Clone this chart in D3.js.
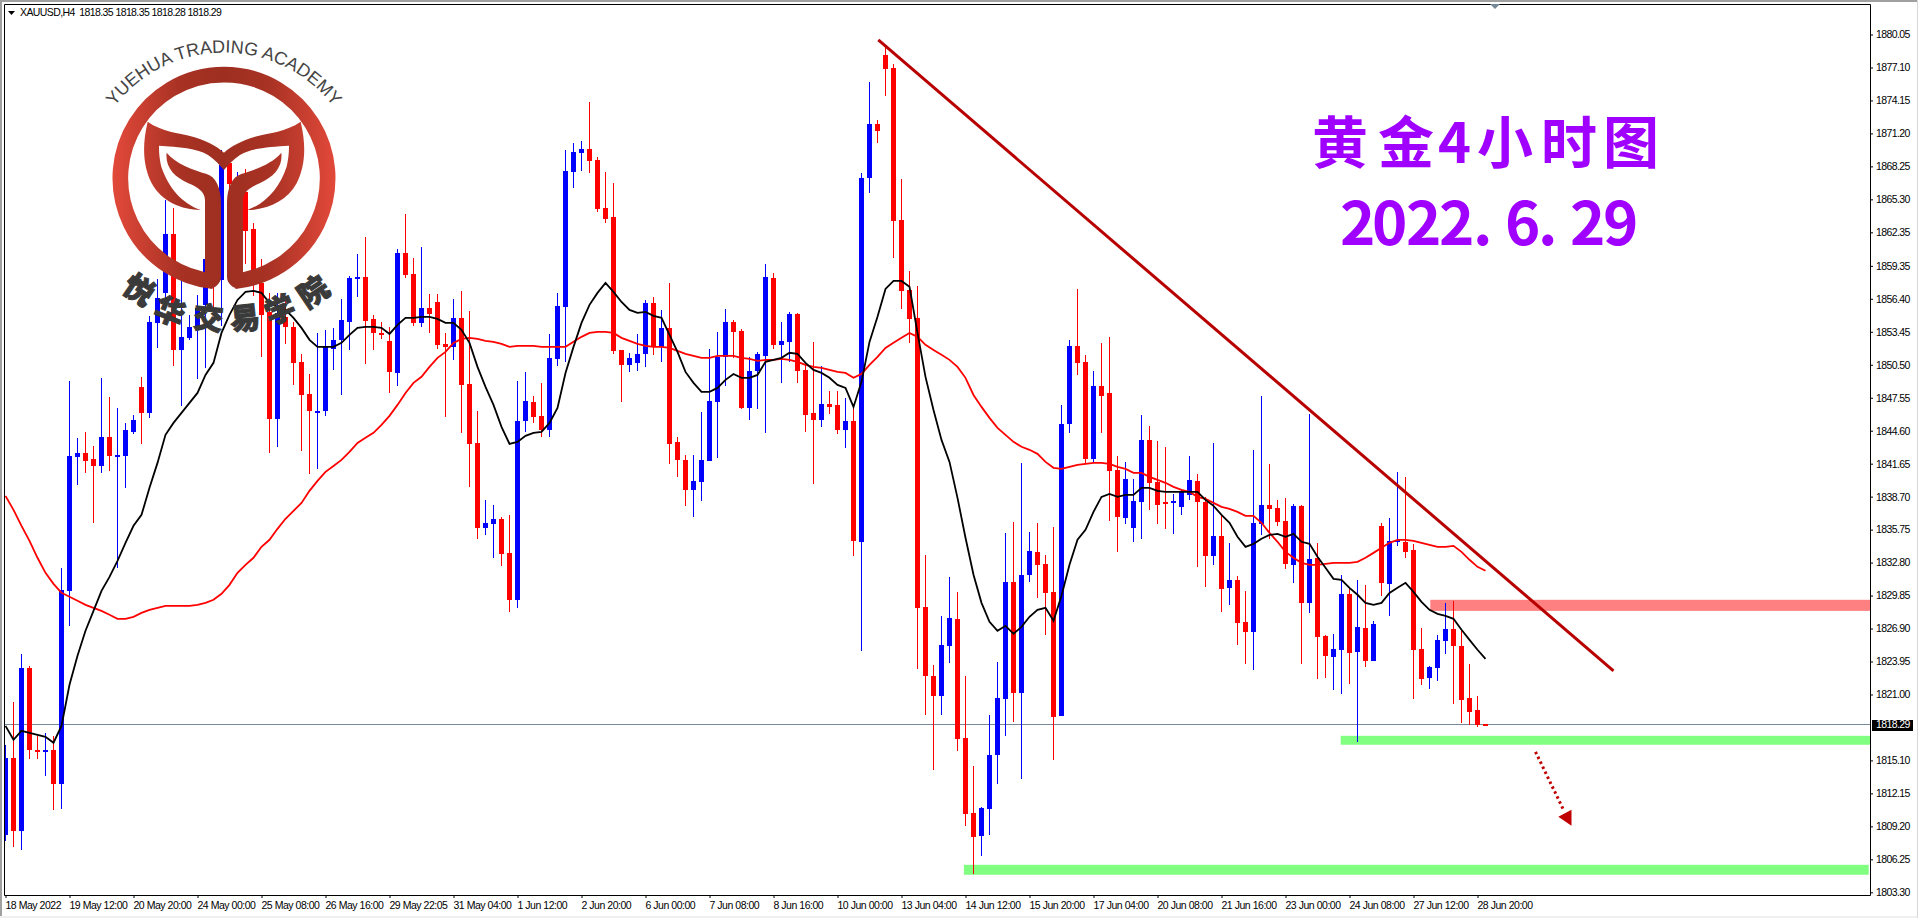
<!DOCTYPE html>
<html>
<head>
<meta charset="utf-8">
<style>
html, body { margin: 0; padding: 0; background: #fff; overflow: hidden; }
svg { display: block; }
text { font-family: "Liberation Sans", sans-serif; }
</style>
</head>
<body>
<script src="https://d3js.org/d3.v7.min.js"></script>
<script>
// XAUUSD H4 candles, one value per bar
var highs = [
1816.50,1820.34,1824.64,1823.56,1817.31,1817.57,1817.31,1832.33,1849.06,1843.96,
1844.50,1843.25,1849.33,1847.63,1846.64,1845.30,1846.02,1849.42,1854.88,1858.18,
1865.25,1864.54,1858.09,1854.96,1856.75,1861.67,1865.25,1869.72,1869.72,1867.75,
1868.02,1863.19,1859.97,1856.93,1856.93,1856.30,1854.34,1851.48,1849.68,1853.35,
1853.62,1853.80,1856.39,1858.45,1860.42,1861.94,1854.96,1854.34,1853.89,1860.87,
1864.00,1860.06,1861.05,1856.84,1856.84,1853.35,1856.39,1857.11,1855.32,1846.37,
1838.41,1837.96,1836.89,1837.07,1849.06,1849.86,1847.72,1848.88,1853.26,1856.93,
1869.72,1870.35,1870.53,1874.01,1869.09,1867.75,1866.77,1851.83,1851.57,1853.26,
1856.30,1856.57,1855.41,1857.82,1844.05,1842.44,1842.44,1846.28,1851.92,1853.44,
1855.50,1854.52,1853.71,1851.21,1851.65,1859.53,1858.72,1854.34,1855.23,1855.14,
1850.49,1852.55,1850.40,1848.16,1848.16,1847.54,1846.64,1867.66,1875.80,1872.40,
1878.94,1877.41,1867.13,1858.90,1857.56,1833.50,1823.66,1828.04,1831.53,1830.19,
1822.67,1814.62,1810.95,1819.18,1823.92,1835.46,1836.45,1841.72,1835.55,1836.36,
1833.50,1836.00,1846.91,1852.73,1857.29,1851.39,1849.95,1852.46,1853.00,1842.35,
1841.81,1840.29,1846.02,1845.03,1843.69,1843.16,1838.95,1839.40,1842.35,1840.74,
1838.68,1843.51,1837.07,1834.57,1831.62,1830.27,1842.89,1847.72,1841.63,1838.41,
1838.59,1838.05,1837.96,1846.10,1834.57,1826.34,1826.43,1831.71,1830.54,1831.26,
1830.81,1827.59,1836.36,1836.80,1840.92,1840.47,1834.48,1826.96,1823.56,1826.34,
1829.20,1829.38,1826.79,1823.74,1820.88,1818.35];

var bodyTops = [
1815.34,1815.34,1823.39,1823.39,1816.05,1816.05,1816.05,1830.36,1842.35,1842.62,
1842.62,1842.08,1844.05,1844.05,1842.44,1844.68,1845.57,1848.52,1854.34,1856.48,
1862.21,1862.21,1853.00,1853.89,1855.59,1859.97,1864.36,1868.38,1868.56,1866.15,
1865.97,1862.66,1857.82,1855.23,1855.14,1854.79,1853.89,1850.76,1847.89,1846.37,
1852.10,1852.73,1854.52,1858.27,1858.36,1858.36,1854.61,1853.35,1852.64,1860.51,
1860.51,1858.63,1855.59,1855.59,1856.12,1852.37,1854.70,1854.70,1848.79,1843.51,
1836.36,1836.72,1836.72,1833.67,1845.48,1847.27,1847.18,1845.93,1851.12,1855.77,
1867.84,1869.54,1869.81,1869.81,1868.83,1864.54,1863.73,1851.83,1851.12,1851.48,
1856.03,1856.03,1853.80,1853.80,1843.60,1841.99,1840.11,1841.99,1847.27,1851.21,
1854.34,1854.34,1853.53,1849.95,1851.48,1858.36,1858.27,1852.64,1855.05,1855.05,
1850.04,1846.19,1847.00,1847.00,1846.91,1845.48,1845.48,1867.22,1872.05,1872.05,
1878.22,1877.06,1863.46,1857.20,1854.70,1828.84,1822.67,1825.45,1827.86,1827.77,
1817.12,1810.42,1810.86,1815.61,1820.70,1831.08,1831.08,1831.71,1833.85,1833.76,
1832.69,1830.18,1845.21,1852.19,1852.19,1850.76,1848.61,1848.61,1847.98,1841.10,
1840.29,1838.32,1843.78,1843.78,1840.02,1838.23,1838.32,1839.13,1840.20,1840.11,
1838.23,1835.20,1835.20,1831.26,1831.26,1827.50,1836.36,1837.96,1837.96,1837.70,
1836.54,1837.88,1837.88,1833.14,1833.23,1826.25,1825.09,1830.01,1830.01,1827.05,
1826.96,1827.32,1836.09,1834.75,1834.84,1834.66,1833.94,1825.09,1823.48,1825.89,
1826.88,1826.88,1825.35,1820.70,1819.63,1818.35];

var bodyBottoms = [
1808.45,1808.80,1808.80,1816.05,1815.96,1815.87,1813.01,1813.01,1830.27,1842.26,
1841.90,1841.45,1841.45,1842.35,1842.35,1842.35,1844.50,1846.19,1846.19,1854.25,
1856.93,1851.83,1851.83,1852.91,1853.80,1855.86,1858.09,1858.09,1866.69,1862.57,
1862.48,1858.81,1854.96,1845.66,1845.66,1853.89,1850.67,1847.80,1846.37,1846.28,
1846.37,1851.92,1852.73,1854.34,1858.18,1854.43,1853.35,1853.26,1849.86,1849.77,
1858.54,1854.25,1854.25,1855.05,1852.28,1852.10,1852.10,1848.70,1843.42,1835.91,
1835.91,1836.27,1833.58,1829.47,1829.47,1845.48,1845.84,1844.68,1844.68,1851.03,
1855.68,1867.75,1869.45,1868.74,1864.45,1863.55,1851.74,1850.49,1850.49,1850.67,
1851.48,1852.10,1852.10,1843.42,1841.99,1839.31,1839.31,1840.02,1841.90,1847.18,
1851.21,1853.44,1846.64,1846.64,1849.95,1851.30,1852.28,1852.28,1852.55,1849.95,
1846.02,1845.57,1845.57,1846.73,1844.68,1844.68,1834.75,1834.66,1867.22,1871.42,
1876.97,1863.37,1857.11,1854.61,1828.75,1822.67,1820.88,1820.88,1825.35,1817.03,
1810.33,1808.27,1808.36,1810.77,1815.61,1820.61,1821.15,1821.15,1831.71,1832.60,
1830.09,1819.00,1819.09,1845.21,1850.67,1842.08,1842.08,1847.72,1841.01,1836.89,
1836.80,1835.91,1838.23,1839.94,1837.97,1838.14,1838.14,1837.79,1838.86,1838.23,
1833.41,1833.41,1830.45,1830.54,1827.41,1826.61,1826.61,1836.27,1837.61,1836.45,
1832.69,1832.60,1829.20,1829.20,1826.16,1824.46,1824.37,1825.00,1824.73,1824.82,
1824.01,1824.01,1830.99,1830.90,1834.66,1833.76,1825.00,1822.40,1822.49,1823.39,
1825.80,1825.35,1820.52,1819.45,1818.28,1818.29];

var lows = [
1807.91,1807.38,1807.11,1815.25,1815.25,1813.73,1810.68,1810.77,1827.14,1839.76,
1840.83,1836.36,1840.83,1841.01,1832.33,1839.49,1844.32,1843.42,1845.75,1852.01,
1856.30,1850.40,1846.82,1852.73,1849.24,1850.22,1855.23,1853.98,1866.15,1858.09,
1859.53,1856.66,1851.21,1842.62,1843.16,1852.37,1848.70,1842.80,1840.74,1841.19,
1845.93,1850.04,1847.80,1851.83,1856.57,1850.58,1851.83,1852.82,1847.98,1848.61,
1858.27,1853.98,1853.89,1853.35,1851.92,1845.84,1850.94,1844.41,1839.58,1834.93,
1835.28,1833.23,1832.51,1828.39,1828.75,1844.50,1845.30,1844.05,1844.05,1850.40,
1850.76,1866.33,1867.84,1867.66,1864.18,1863.19,1851.48,1847.18,1849.86,1849.95,
1850.31,1851.39,1850.76,1841.63,1840.47,1837.88,1836.89,1838.32,1841.90,1842.17,
1848.61,1851.12,1846.55,1845.57,1846.55,1844.41,1851.92,1848.88,1850.76,1848.88,
1844.50,1839.85,1844.94,1846.10,1844.32,1843.07,1833.41,1824.91,1865.88,1870.35,
1874.55,1860.06,1855.50,1852.46,1823.30,1819.18,1814.26,1819.18,1823.83,1815.96,
1809.25,1804.95,1806.57,1808.45,1813.01,1817.31,1818.55,1813.46,1831.08,1829.65,
1826.34,1815.16,1819.09,1844.41,1849.59,1841.63,1841.72,1844.41,1836.54,1833.76,
1836.27,1834.66,1834.93,1837.52,1836.27,1835.82,1835.37,1837.07,1838.41,1832.42,
1830.63,1832.60,1828.39,1829.02,1825.45,1823.74,1823.21,1835.28,1834.93,1836.09,
1832.24,1830.99,1823.74,1828.31,1822.40,1822.49,1821.42,1821.06,1821.96,1816.77,
1823.48,1824.01,1829.83,1828.04,1834.30,1833.23,1820.61,1821.87,1821.51,1822.22,
1824.64,1820.16,1818.46,1818.28,1818.10,1818.28];

// u = close above open (blue), d = close below open (red)
var directions = ("ududduduuu" + "dduduuuduu" + "uduuuududu" + "ddddudddd" + "u" +
    "uuuuuddddu" + "ddudddu" + "ddd" + "uuddu" + "udduu" + "uuuddddduu" +
    "ududdduuuu" + "udduuuduud" + "ddudduduud" + "ddddddduud" +
    "dduuuuduud" + "dduudduddd" + "uuudddu" + "uud" +
    "dududduudd" + "dududduudu" + "duduuddduu" + "uddddd").split("");

var blackMA = [
1818.19,1816.95,1817.75,1817.57,1817.39,1817.21,1816.68,1818.19,1821.87,1824.46,
1826.70,1828.48,1830.27,1831.52,1832.96,1834.57,1836.09,1837.07,1839.49,1841.72,
1844.23,1845.30,1846.19,1847.09,1847.98,1849.59,1850.67,1853.35,1854.96,1856.30,
1857.02,1857.11,1856.93,1856.03,1855.68,1855.41,1854.70,1853.80,1852.73,1852.10,
1852.10,1852.10,1852.46,1853.17,1853.80,1853.89,1853.89,1853.80,1853.26,1854.07,
1854.70,1854.70,1854.79,1854.79,1854.61,1854.25,1854.25,1853.62,1852.46,1850.31,
1848.52,1846.91,1844.94,1843.42,1843.60,1844.14,1844.41,1844.50,1845.30,1846.64,
1849.77,1852.10,1854.25,1855.86,1856.93,1857.82,1857.02,1856.12,1855.41,1855.14,
1855.23,1854.88,1854.70,1853.17,1851.65,1849.86,1848.88,1848.07,1848.07,1848.43,
1849.15,1849.68,1849.33,1849.33,1849.59,1850.76,1850.94,1851.12,1851.57,1851.48,
1850.67,1850.04,1849.77,1849.33,1848.70,1848.43,1846.73,1848.97,1852.55,1854.79,
1857.29,1858.00,1858.00,1857.47,1853.35,1849.42,1846.46,1843.78,1841.81,1838.59,
1835.02,1831.71,1829.20,1827.50,1826.70,1827.14,1826.43,1827.05,1827.95,1828.57,
1828.75,1827.59,1829.83,1832.60,1834.84,1835.73,1837.34,1838.68,1838.95,1838.68,
1838.86,1838.86,1839.49,1839.49,1839.22,1839.13,1839.13,1839.13,1839.13,1839.13,
1838.41,1837.88,1837.07,1836.36,1835.11,1834.21,1834.48,1834.93,1835.28,1835.37,
1835.11,1835.37,1834.66,1834.48,1833.32,1832.33,1831.35,1831.26,1830.54,1829.92,
1829.20,1829.02,1829.20,1830.09,1830.54,1830.99,1830.18,1829.29,1828.57,1828.21,
1828.04,1827.77,1826.79,1825.89,1825.00,1824.19];

var redMA = [
1838.77,1837.52,1836.09,1834.75,1833.23,1831.88,1830.90,1830.09,1829.74,1829.38,
1829.02,1828.75,1828.48,1828.13,1827.77,1827.77,1827.95,1828.30,1828.57,1828.75,
1828.93,1828.93,1828.93,1828.93,1829.02,1829.20,1829.47,1830.01,1830.81,1831.88,
1832.60,1833.23,1834.21,1834.84,1835.82,1836.72,1837.43,1838.14,1839.22,1840.11,
1840.92,1841.45,1841.99,1842.71,1843.51,1843.96,1844.41,1845.12,1845.93,1846.91,
1847.98,1848.88,1849.42,1850.31,1851.12,1851.65,1852.46,1852.82,1852.91,1852.82,
1852.64,1852.55,1852.37,1852.10,1852.19,1852.19,1852.19,1852.10,1852.10,1852.10,
1852.10,1852.55,1853.00,1853.35,1853.44,1853.44,1853.35,1852.91,1852.64,1852.37,
1852.19,1852.10,1852.10,1852.01,1851.74,1851.48,1851.30,1851.12,1851.12,1851.30,
1851.30,1851.30,1851.12,1851.03,1850.85,1850.94,1850.94,1851.03,1850.94,1850.76,
1850.49,1850.31,1850.22,1850.04,1849.86,1849.77,1849.33,1849.68,1850.49,1851.21,
1852.01,1852.46,1852.91,1853.35,1853.00,1852.28,1851.83,1851.39,1850.94,1850.31,
1849.33,1847.80,1846.73,1845.75,1844.86,1844.23,1843.60,1843.16,1842.89,1842.53,
1841.81,1841.28,1841.19,1841.37,1841.54,1841.63,1841.72,1841.72,1841.63,1841.37,
1841.19,1840.83,1840.83,1840.47,1840.20,1839.94,1839.58,1839.31,1839.13,1838.68,
1838.50,1838.14,1837.79,1837.61,1837.34,1836.98,1836.98,1836.36,1835.46,1834.66,
1833.76,1833.23,1832.78,1832.60,1832.60,1832.69,1832.78,1832.78,1832.78,1832.87,
1833.23,1833.67,1834.12,1834.57,1834.84,1834.84,1834.75,1834.57,1834.39,1834.21,
1834.21,1834.30,1833.76,1833.05,1832.42,1832.07];

var timeLabels = ["18 May 2022","19 May 12:00","20 May 20:00","24 May 00:00","25 May 08:00","26 May 16:00",
    "29 May 22:05","31 May 04:00","1 Jun 12:00","2 Jun 20:00","6 Jun 00:00","7 Jun 08:00",
    "8 Jun 16:00","10 Jun 00:00","13 Jun 04:00","14 Jun 12:00","15 Jun 20:00","17 Jun 04:00",
    "20 Jun 08:00","21 Jun 16:00","23 Jun 00:00","24 Jun 08:00","27 Jun 12:00","28 Jun 20:00"];

var priceLabels = [1880.05,1877.10,1874.15,1871.20,1868.25,1865.30,1862.35,1859.35,1856.40,1853.45,
    1850.50,1847.55,1844.60,1841.65,1838.70,1835.75,1832.80,1829.85,1826.90,1823.95,1821.00,
    1815.10,1812.15,1809.20,1806.25,1803.30];

var lastPrice = 1818.29;

// drawn annotations, in bar index and price
var resistanceZone = [178.1, 233.2, 1829.47, 1828.48];
var supportZones = [[166.9, 233.2, 1817.30, 1816.50], [119.8, 232.9, 1805.76, 1804.87]];
var trendLine = [[109.1, 1879.56], [201, 1823.12]];
var arrowLine = [[191.25, 1815.87], [194.75, 1810.68]];
var arrowHead = [[195.75, 1810.68], [194.1, 1810.06], [195.75, 1809.25]];

var width = 1918, height = 918;
var left = 5, right = 1870, top_ = 5, bottom = 895;

var x = d3.scaleLinear().domain([0, 185]).range([5.5, 1485.5]);
var y = d3.scaleLinear().domain([1803.30, 1880.05]).range([892.3, 34.5]);

var svg = d3.select("body").append("svg").attr("width", width).attr("height", height);
var defs = svg.append("defs");

defs.append("clipPath").attr("id", "plot").append("rect")
    .attr("x", left).attr("y", top_).attr("width", right - left).attr("height", bottom - top_);

// window edges of the terminal
svg.append("rect").attr("width", width).attr("height", height).attr("fill", "#fff");
svg.append("rect").attr("width", width).attr("height", 2).attr("fill", "#a0a0a0");
svg.append("rect").attr("width", 2).attr("height", height).attr("fill", "#a0a0a0");
svg.append("rect").attr("y", 916).attr("width", width).attr("height", 2).attr("fill", "#f0f0f0");
svg.append("rect").attr("x", 1917).attr("width", 1).attr("height", height).attr("fill", "#d8d8d8");

var plot = svg.append("g").attr("clip-path", "url(#plot)");

// zones go under the candles
plot.append("rect")
    .attr("x", x(resistanceZone[0])).attr("width", x(resistanceZone[1]) - x(resistanceZone[0]))
    .attr("y", y(resistanceZone[2])).attr("height", y(resistanceZone[3]) - y(resistanceZone[2]))
    .attr("fill", "#ff8080");
plot.selectAll(".support").data(supportZones).enter().append("rect")
    .attr("class", "support")
    .attr("x", function (d) { return x(d[0]); })
    .attr("width", function (d) { return x(d[1]) - x(d[0]); })
    .attr("y", function (d) { return y(d[2]); })
    .attr("height", function (d) { return y(d[3]) - y(d[2]); })
    .attr("fill", "#80ff80");

plot.append("line")
    .attr("x1", left).attr("x2", right)
    .attr("y1", Math.floor(y(lastPrice)) + 0.5).attr("y2", Math.floor(y(lastPrice)) + 0.5)
    .attr("stroke", "#778899").attr("stroke-width", 1);

// candles
var colour = function (i) { return directions[i] === "u" ? "#0000ff" : "#ff0000"; };
var candles = plot.append("g").attr("shape-rendering", "crispEdges");

candles.selectAll("line").data(highs).enter().append("line")
    .attr("x1", function (d, i) { return x(i); })
    .attr("x2", function (d, i) { return x(i); })
    .attr("y1", function (d) { return y(d); })
    .attr("y2", function (d, i) { return y(lows[i]); })
    .attr("stroke", function (d, i) { return colour(i); })
    .attr("stroke-width", 1);

candles.selectAll("rect").data(bodyTops).enter().append("rect")
    .attr("x", function (d, i) { return x(i) - 2.5; })
    .attr("width", 5)
    .attr("y", function (d) { return Math.round(y(d)); })
    .attr("height", function (d, i) { return Math.max(2, Math.round(y(bodyBottoms[i]) - y(d))); })
    .attr("fill", function (d, i) { return colour(i); });

// moving averages
var maLine = d3.line().x(function (d, i) { return x(i); }).y(function (d) { return y(d); });
plot.append("path").attr("d", maLine(redMA)).attr("fill", "none").attr("stroke", "#ff0000").attr("stroke-width", 1.8);
plot.append("path").attr("d", maLine(blackMA)).attr("fill", "none").attr("stroke", "#000").attr("stroke-width", 1.8);

// hand drawn trend line and arrow
var pointLine = d3.line().x(function (d) { return x(d[0]); }).y(function (d) { return y(d[1]); });
plot.append("path").attr("d", pointLine(trendLine)).attr("fill", "none").attr("stroke", "#b80000").attr("stroke-width", 3);
plot.append("path").attr("d", pointLine(arrowLine)).attr("fill", "none").attr("stroke", "#c00000")
    .attr("stroke-width", 3).attr("stroke-dasharray", "2.5 3");
plot.append("path").attr("d", pointLine(arrowHead) + "Z").attr("fill", "#c00000");

// logo, traced in 3x crop coordinates
var grad = defs.append("linearGradient").attr("id", "logoGrad")
    .attr("gradientUnits", "userSpaceOnUse").attr("x1", 68).attr("x2", 737).attr("y1", 0).attr("y2", 0);
grad.append("stop").attr("offset", "0").attr("stop-color", "#e2493a");
grad.append("stop").attr("offset", "0.3").attr("stop-color", "#a83224");
grad.append("stop").attr("offset", "0.5").attr("stop-color", "#9e2f20");
grad.append("stop").attr("offset", "0.7").attr("stop-color", "#a83224");
grad.append("stop").attr("offset", "1").attr("stop-color", "#e2493a");

var logo = svg.append("g").attr("transform", "translate(90,20) scale(0.3333)");
logo.append("path").attr("d", "M370,784 A311,311 0 1 1 434,784")
    .attr("fill", "none").attr("stroke", "url(#logoGrad)").attr("stroke-width", 47);
logo.append("path").attr("fill", "url(#logoGrad)")
    .attr("d", "M173,305 C215,335 270,340 300,348 C345,360 380,378 402,398 C424,378 459,360 504,348 C534,340 589,335 632,305 " +
        "C650,380 645,440 620,490 C590,545 530,570 472,570 C530,550 570,500 590,440 C597,410 597,390 597,377 " +
        "C540,380 480,385 450,405 C430,418 415,435 402,450 C389,435 374,418 354,405 C324,385 264,380 207,377 " +
        "C207,390 207,410 214,440 C234,500 274,550 333,570 C275,570 215,545 185,490 C160,440 155,380 173,305 Z");
var stem = "M230,398 C255,430 310,450 350,462 C378,470 393,505 393,550 L393,770 C393,790 375,805 360,805 L345,757 L345,540 " +
    "C345,515 320,500 295,490 C250,470 225,440 230,398 Z";
logo.append("path").attr("d", stem).attr("fill", "url(#logoGrad)");
logo.append("path").attr("d", stem).attr("fill", "url(#logoGrad)").attr("transform", "translate(804,0) scale(-1,1)");

defs.append("path").attr("id", "logoArc").attr("d", "M40,310 A415,415 0 0 1 764,310");
logo.append("text").attr("font-size", 54).attr("fill", "#444")
    .append("textPath").attr("href", "#logoArc").attr("startOffset", "50%").attr("text-anchor", "middle")
    .text("YUEHUA TRADING ACADEMY");

var logoChars = ["悦", "华", "交", "易", "学", "院"];
var logoCharX = [147, 240, 355, 465, 570, 670];
var logoCharY = [810, 875, 895, 895, 870, 816];
var logoCharAngle = [34, 22, 6, -6, -22, -34];
logo.selectAll(".logoChar").data(logoChars).enter().append("text")
    .attr("class", "logoChar")
    .attr("transform", function (d, i) { return "translate(" + logoCharX[i] + "," + logoCharY[i] + ") rotate(" + logoCharAngle[i] + ")"; })
    .attr("text-anchor", "middle").attr("dy", "0.36em")
    .attr("font-size", 90).attr("font-weight", 900).attr("fill", "#3a3a3a")
    .attr("stroke", "#3a3a3a").attr("stroke-width", 3)
    .style("font-family", '"Noto Sans CJK SC"')
    .text(function (d) { return d; });

// chart titles, one x per glyph because the gaps are uneven
svg.append("text").attr("x", "1312 1378 1438 1477 1541 1603").attr("y", 163)
    .attr("font-size", 56).attr("font-weight", 700).attr("fill", "#9f00ff")
    .style("font-family", '"Noto Sans CJK SC"').text("黄金4小时图");
svg.append("text").attr("x", "1340 1372 1406 1439 1473 1505 1538 1570 1603").attr("y", 245)
    .attr("font-size", 60).attr("font-weight", 700).attr("fill", "#9f00ff")
    .style("font-family", '"Noto Sans CJK SC"').text("2022.6.29");

// frame
svg.append("path").attr("d", "M4.5,895.5 V4.5 H1870.5 V895.5 Z").attr("fill", "none").attr("stroke", "#000");

// axes
var xAxis = d3.axisBottom(x)
    .tickValues(timeLabels.map(function (d, i) { return i * 8; }))
    .tickFormat(function (d, i) { return timeLabels[i]; })
    .tickSize(3).tickSizeOuter(0);
var xG = svg.append("g").attr("transform", "translate(0,895)").call(xAxis);
xG.select(".domain").remove();
xG.selectAll("text").attr("text-anchor", "start").attr("dx", "-0.5").attr("y", 6).attr("dy", "0.72em")
    .style("font-size", "10.5px").style("letter-spacing", "-0.47px")
    .style("font-family", '"Liberation Sans", sans-serif').attr("fill", "#000");

var yAxis = d3.axisRight(y)
    .tickValues(priceLabels).tickFormat(d3.format(".2f"))
    .tickSize(3).tickPadding(3).tickSizeOuter(0);
var yG = svg.append("g").attr("transform", "translate(1870,0)").call(yAxis);
yG.select(".domain").remove();
yG.selectAll("text").style("font-size", "10.5px").style("letter-spacing", "-0.6px")
    .style("font-family", '"Liberation Sans", sans-serif').attr("fill", "#000");

// last price tag
svg.append("rect").attr("x", 1872).attr("y", 720).attr("width", 41).attr("height", 11).attr("fill", "#000");
svg.append("text").attr("x", 1876).attr("y", y(lastPrice)).attr("dy", "0.35em")
    .attr("font-size", 10.5).attr("letter-spacing", "-0.6").attr("fill", "#fff").text(d3.format(".2f")(lastPrice));

// header and the chart shift marker
svg.append("path").attr("d", "M8,11 H15 L11.5,15 Z").attr("fill", "#000");
svg.append("text").attr("x", 20).attr("y", 16).attr("font-size", 10.5).attr("letter-spacing", "-0.6").attr("fill", "#000")
    .attr("xml:space", "preserve").style("white-space", "pre")
    .text("XAUUSD,H4  1818.35 1818.35 1818.28 1818.29");
svg.append("path").attr("d", "M1490,4 H1500 L1495,9 Z").attr("fill", "#778899");
</script>
</body>
</html>
